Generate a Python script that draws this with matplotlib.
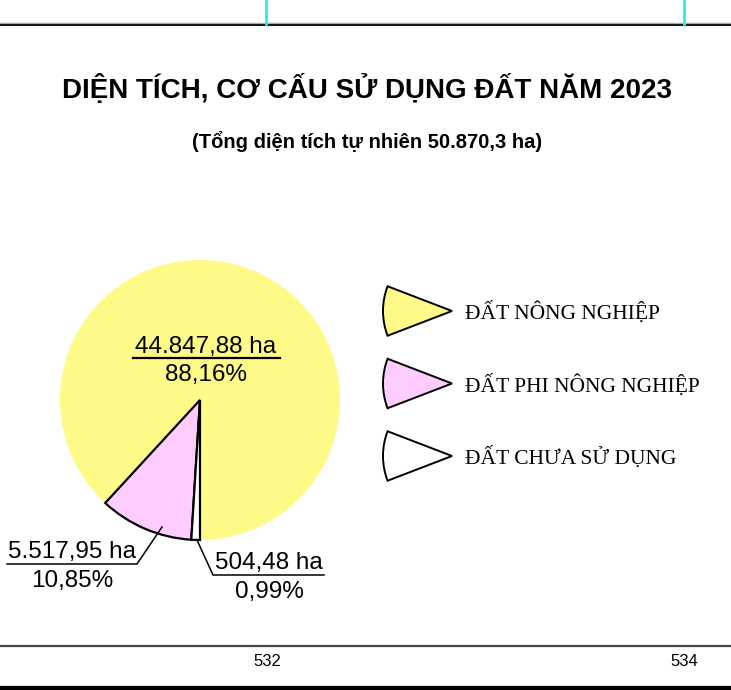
import matplotlib
matplotlib.use("Agg")
import matplotlib.pyplot as plt
from matplotlib.patches import Wedge

# data
labels = ["ĐẤT NÔNG NGHIỆP", "ĐẤT PHI NÔNG NGHIỆP", "ĐẤT CHƯA SỬ DỤNG"]
areas = [44847.88, 5517.95, 504.48]
area_text = ["44.847,88 ha", "5.517,95 ha", "504,48 ha"]
pct_text = ["88,16%", "10,85%", "0,99%"]
colors = ["#fefa88", "#ffccff", "#ffffff"]
title = "DIỆN TÍCH, CƠ CẤU SỬ DỤNG ĐẤT NĂM 2023"
subtitle = "(Tổng diện tích tự nhiên 50.870,3 ha)"
pages = ["532", "534"]

W, H = 731, 690
fig = plt.figure(figsize=(W / 100, H / 100), dpi=100)
ax = fig.add_axes([0, 0, 1, 1])

# pixel coords, y measured from the top
def Y(y):
    return H - y

wedges, _ = ax.pie(areas, colors=colors, startangle=270, counterclock=True,
                   center=(200, Y(400)), radius=140,
                   wedgeprops=dict(linewidth=1.6, edgecolor="black"))
wedges[0].set_edgecolor(colors[0])
wedges[0].set_linewidth(0)
ax.set_xlim(0, W)
ax.set_ylim(0, H)
ax.set_aspect("equal")
ax.axis("off")

sans = "Liberation Sans"
serif = "Liberation Serif"

# title
ax.text(367, Y(89), title, ha="center", va="center", fontsize=20,
        fontweight="bold", family=sans)
ax.text(367, Y(141), subtitle, ha="center", va="center", fontsize=14.5,
        fontweight="bold", family=sans)

# slice labels
lab = dict(fontsize=17.5, family=sans, ha="center", va="center")
ax.text(206, Y(347), area_text[0], **lab)
ax.plot([133, 280], [Y(358), Y(358)], color="black", lw=1.6)
ax.text(206, Y(375), pct_text[0], **lab)

ax.text(72, Y(552), area_text[1], **lab)
ax.plot([7, 137, 162], [Y(564), Y(564), Y(527)], color="black", lw=1.1)
ax.text(72, Y(581), pct_text[1], **lab)

ax.text(269, Y(563), area_text[2], **lab)
ax.plot([197, 213, 324], [Y(540), Y(575), Y(575)], color="black", lw=1.1)
ax.text(269, Y(592), pct_text[2], **lab)

# legend with wedge markers
for i, (name, c) in enumerate(zip(labels, colors)):
    yc = Y(311 + 72.5 * i)
    ax.add_patch(Wedge((452, yc), 69, 159, 201, facecolor=c,
                       edgecolor="black", lw=1.4))
    ax.text(465, yc - 2, name, ha="left", va="center", fontsize=15.5,
            family=serif)

# page decorations
ax.plot([0, W], [Y(23), Y(23)], color="#aaaaaa", lw=1)
ax.plot([0, W], [Y(25), Y(25)], color="black", lw=1.3)
for x in (266, 684):
    ax.plot([x, x], [Y(0), Y(24)], color="#22eeee", lw=2)
ax.plot([0, W], [Y(646), Y(646)], color="#444444", lw=1.6)
ax.plot([0, W], [Y(688), Y(688)], color="black", lw=3)
for x, p in zip((267, 684), pages):
    ax.text(x, Y(661), p, ha="center", va="center", fontsize=12, family=sans)

fig.savefig("out.png", dpi=100)
